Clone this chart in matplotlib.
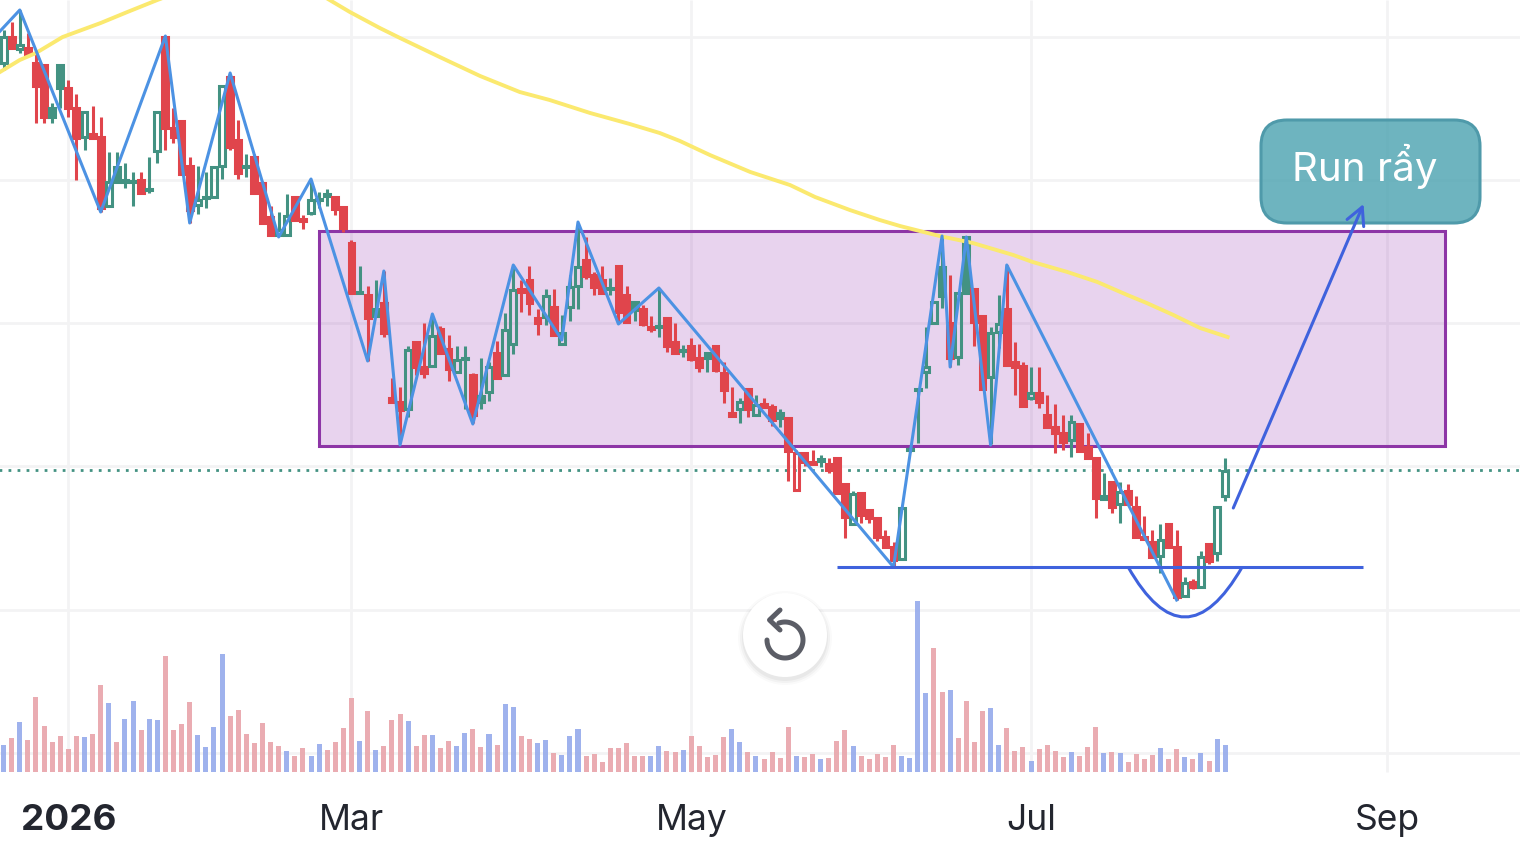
import numpy as np
import matplotlib
matplotlib.use("Agg")
import matplotlib.pyplot as plt
from matplotlib.patches import Rectangle, FancyBboxPatch, Circle, PathPatch
from matplotlib.path import Path
from matplotlib.transforms import Affine2D

plt.rcParams['font.family'] = ['Inter', 'DejaVu Sans']

# gia doc tu hinh, truc gia khong co nhan nen don vi chi la tuong doi
opens = [79.2, 81.8, 80.6, 80.7, 79.2, 79.0, 74.7, 79.0, 76.7, 74.7,
         71.8, 72.1, 71.8, 64.9, 68.8, 67.3, 67.3, 67.5, 66.5, 70.4,
         81.8, 72.7, 73.4, 68.9, 65.0, 65.7, 65.8, 68.9, 77.8, 71.5,
         68.8, 69.8, 67.2, 63.8, 62.0, 62.0, 65.8, 63.6, 64.2, 65.5,
         65.9, 65.8, 64.8, 61.2, 56.2, 56.0, 54.6, 55.2, 45.7, 45.3,
         44.6, 51.3, 48.8, 48.9, 52.6, 50.6, 48.3, 49.6, 48.0, 45.9,
         46.3, 50.2, 48.0, 51.1, 56.6, 57.5, 53.7, 53.8, 54.8, 51.1,
         54.8, 56.9, 59.5, 58.0, 57.5, 56.6, 58.9, 56.0, 55.3, 54.6,
         52.8, 52.8, 53.7, 51.3, 50.4, 50.9, 49.7, 50.2, 50.9, 48.2,
         44.2, 44.6, 46.6, 44.0, 45.1, 44.8, 44.2, 43.7, 36.5, 40.2,
         39.3, 39.4, 39.1, 39.7, 37.1, 33.1, 36.2, 34.5, 33.7, 31.8,
         30.8, 29.6, 40.5, 46.5, 48.3, 53.2, 58.8, 53.2, 49.8, 61.8,
         56.6, 53.9, 47.8, 52.3, 54.6, 49.3, 48.9, 45.7, 46.2, 44.0,
         42.8, 42.2, 41.5, 43.1, 40.8, 39.7, 35.6, 37.3, 35.1, 36.4,
         34.8, 31.8, 31.3, 29.9, 33.1, 30.8, 25.9, 27.3, 26.8, 31.1,
         30.2, 35.9]
highs = [82.5, 83.3, 84.5, 82.2, 80.2, 79.0, 75.2, 79.0, 77.5, 76.1,
         74.3, 74.9, 73.8, 70.3, 70.3, 69.2, 68.3, 68.3, 69.8, 74.3,
         81.8, 74.7, 73.4, 69.8, 68.9, 68.3, 68.8, 76.9, 78.1, 73.5,
         70.1, 70.1, 67.4, 64.9, 64.3, 66.1, 65.8, 64.0, 67.5, 66.3,
         66.6, 65.8, 64.9, 61.5, 58.9, 56.9, 57.5, 58.4, 47.7, 46.8,
         50.9, 51.3, 53.2, 54.1, 52.9, 52.0, 50.9, 50.9, 48.2, 49.7,
         49.3, 51.4, 54.2, 59.0, 57.5, 58.9, 54.6, 56.6, 56.6, 54.0,
         58.0, 63.2, 61.8, 58.3, 58.9, 57.7, 58.9, 56.9, 55.3, 55.0,
         53.9, 56.7, 53.7, 53.2, 51.0, 51.7, 51.1, 50.2, 50.9, 49.3,
         46.8, 45.7, 46.6, 46.0, 45.7, 45.1, 44.6, 43.7, 40.5, 40.2,
         40.5, 40.0, 39.7, 39.7, 37.1, 36.4, 36.2, 34.5, 33.7, 32.5,
         31.3, 34.7, 40.8, 46.7, 52.8, 55.3, 61.8, 58.0, 56.2, 61.8,
         56.6, 53.9, 52.8, 56.0, 59.0, 51.3, 49.3, 48.8, 48.8, 46.0,
         45.1, 44.0, 44.0, 43.1, 42.2, 39.7, 38.2, 37.3, 37.3, 37.1,
         35.9, 33.9, 32.5, 33.1, 33.1, 32.5, 27.8, 27.6, 30.4, 31.1,
         34.8, 39.7]
lows = [78.5, 80.7, 80.2, 80.1, 73.2, 73.2, 73.2, 74.7, 73.8, 67.5,
        70.5, 71.6, 64.3, 64.9, 67.3, 66.7, 64.9, 66.2, 66.2, 69.2,
        70.5, 71.2, 68.1, 63.2, 64.1, 64.7, 65.8, 67.6, 70.5, 67.6,
        67.8, 66.2, 63.2, 62.0, 62.0, 62.0, 63.5, 62.6, 64.0, 64.7,
        64.9, 64.0, 62.3, 56.1, 56.1, 49.4, 53.9, 51.8, 45.3, 41.2,
        43.8, 48.0, 47.7, 48.9, 50.2, 47.4, 48.2, 44.6, 43.2, 44.6,
        45.4, 47.7, 48.0, 50.1, 54.3, 54.0, 52.0, 53.0, 52.0, 51.1,
        53.4, 54.6, 57.6, 56.0, 56.1, 56.0, 53.2, 53.3, 53.4, 52.9,
        52.3, 51.8, 50.3, 50.2, 49.8, 49.4, 48.3, 48.3, 48.3, 45.2,
        43.9, 43.2, 43.8, 44.0, 44.8, 42.9, 42.8, 37.4, 36.5, 38.9,
        39.1, 38.8, 38.2, 36.2, 31.7, 33.1, 33.2, 33.2, 31.4, 30.8,
        28.8, 29.6, 40.3, 41.2, 46.7, 53.2, 54.7, 48.8, 49.0, 56.2,
        50.9, 46.6, 41.1, 50.7, 49.0, 46.0, 44.9, 45.5, 44.7, 42.8,
        40.2, 40.5, 39.8, 40.4, 39.7, 33.7, 35.6, 34.2, 33.2, 35.1,
        31.7, 31.6, 29.7, 28.2, 30.8, 25.5, 25.9, 26.6, 26.8, 29.1,
        29.4, 35.4]
closes = [81.8, 80.7, 81.0, 80.1, 76.9, 73.8, 73.8, 76.7, 74.7, 71.7,
          74.3, 71.7, 64.7, 67.3, 67.3, 67.5, 67.4, 66.2, 66.6, 74.3,
          72.7, 71.8, 68.1, 64.5, 65.5, 65.8, 68.8, 76.9, 70.8, 68.2,
          68.9, 66.2, 63.2, 62.0, 62.5, 63.9, 63.5, 63.4, 65.5, 65.6,
          66.1, 64.6, 62.7, 56.2, 56.3, 53.7, 53.9, 52.2, 45.3, 44.5,
          50.5, 48.8, 48.2, 51.9, 50.2, 48.6, 49.5, 49.7, 44.0, 45.3,
          48.8, 47.7, 52.5, 56.5, 56.3, 55.2, 53.2, 55.9, 52.0, 52.2,
          56.8, 58.8, 57.9, 56.8, 56.2, 56.7, 54.3, 53.3, 54.5, 53.1,
          52.6, 52.9, 50.9, 50.2, 50.5, 49.6, 48.8, 49.7, 48.5, 46.5,
          43.9, 45.3, 44.6, 45.0, 44.8, 43.5, 43.7, 40.4, 40.2, 39.3,
          39.1, 39.6, 38.5, 36.2, 33.8, 36.1, 34.0, 33.7, 31.8, 30.8,
          29.5, 34.7, 40.6, 46.6, 48.8, 55.3, 55.9, 49.7, 56.2, 56.2,
          53.3, 46.6, 52.2, 53.1, 49.0, 48.8, 44.9, 46.2, 45.3, 42.8,
          42.2, 41.3, 43.3, 40.4, 39.7, 35.7, 35.9, 34.8, 36.3, 35.1,
          31.8, 31.6, 29.8, 31.5, 30.8, 25.8, 27.2, 26.8, 29.8, 29.4,
          34.8, 38.4]
# g = xanh, r = do
candle_colors = ("grgrrrggrr" "grrggggrgg" "rrrrggggrr" "grrrggrrgg"
                 "grrrgrgrrr" "grrgrrggrg" "grggrrrgrg" "ggrrrgrrgr"
                 "rgrrgrrgrr" "rgrgrrgrrr" "rgrrrgrrrr" "rggggggrgg"
                 "rrggrrrgrr" "rrgrrrgrgr" "rrrgrrgrgr" "gg")

volumes = [27, 34, 50, 32, 75, 46, 30, 36, 23, 36,
           35, 38, 87, 69, 30, 53, 71, 42, 53, 52,
           116, 42, 48, 70, 37, 25, 45, 118, 56, 62,
           38, 29, 49, 30, 26, 21, 16, 24, 16, 28,
           22, 30, 44, 74, 31, 61, 22, 26, 52, 58,
           51, 26, 37, 37, 24, 31, 26, 39, 43, 25,
           38, 27, 68, 65, 36, 33, 29, 32, 19, 17,
           36, 43, 16, 18, 10, 24, 24, 29, 16, 16,
           16, 26, 21, 20, 22, 36, 26, 15, 17, 35,
           43, 30, 20, 16, 13, 20, 14, 45, 16, 15,
           18, 13, 14, 31, 42, 26, 16, 13, 18, 15,
           27, 16, 14, 171, 79, 124, 80, 82, 34, 71,
           30, 61, 64, 27, 44, 21, 25, 11, 23, 27,
           21, 15, 20, 16, 25, 45, 19, 20, 19, 10,
           18, 13, 17, 24, 13, 23, 15, 13, 19, 11,
           33, 27]
# b = xanh duong, p = hong
volume_colors = ("bpbppppppp" "bppbpbbpbb" "ppppbbbbpp" "pppppbppbb"
                 "ppppbpbppp" "bppbppbbpp" "bpbbppbbpb" "bbpppppppp"
                 "bbppbppppp" "bbpbppppbp" "pbpppbpppp" "pbbbbppbpp"
                 "ppbbpppbpp" "ppbpppbpbp" "pppbppbpbp" "bb")

# duong zigzag: chi so nen va gia
zigzag_idx = [-1, 2, 12, 20, 23, 28, 34, 38, 45, 47, 49, 53, 58, 63, 69, 71, 76, 81, 110, 116, 117, 119, 122, 124, 145]
zigzag_val = [81.9, 84.5, 64.3, 81.9, 63.2, 78.2, 61.8, 67.6, 49.4, 58.4, 41.0, 54.1, 43.1,
              59.0, 51.5, 63.3, 53.1, 56.7, 28.8, 61.9, 48.8, 61.8, 41.0, 59.0, 25.5]

# duong MA vang
ma_idx = [-0.45, 2, 4, 7.3, 12, 15.3, 19, 24, 30.5, 36.6, 40.3, 42.8, 46.5, 49, 53.9, 58.9, 63.8,
          67.5, 72.5, 77.4, 81.1, 83.6, 87.3, 92.3, 97.2, 100.3, 104.6, 108.3, 110.8, 115.7, 119.8,
          124.8, 127.2, 131.5, 135.2, 138.9, 141.3, 144.6, 147.9, 151.3]
ma_val = [78.3, 79.5, 80.2, 81.8, 83.2, 84.3, 85.5, 87.0, 88.3, 87.3, 85.5, 84.3, 82.7, 81.7, 79.8,
          77.9, 76.3, 75.5, 74.2, 73.1, 72.2, 71.4, 70.0, 68.3, 67.0, 65.8, 64.5, 63.5, 62.9, 61.9,
          61.2, 60.0, 59.3, 58.3, 57.3, 56.0, 55.2, 54.0, 52.7, 51.8]

zone_left, zone_right = 39, 178.2
zone_low, zone_high = 40.9, 62.4
dotted_level = 38.5
support_level = 28.8
support_from, support_to = 103, 168
grid_levels = [81.8, 67.5, 53.2, 38.9, 24.5, 10.2]
tick_idx = [8, 43, 85, 127, 171]
tick_labels = ['2026', 'Mar', 'May', 'Jul', 'Sep']

RED = '#e0454c'
GREEN = '#439282'
n = len(closes)
x = np.arange(n)

fig = plt.figure(figsize=(15.2, 8.55), dpi=100)
ax = fig.add_axes([0, 0, 1, 1])
ax.set_xlim(-0.445, 187.44)
ax.set_ylim(0, 85.5)
ax.axis('off')

# toa do pixel tu goc tren trai, cho nut va hop chu
px = Affine2D().scale(1, -1).translate(0, 855)

ax.hlines(grid_levels, -1, 188, color='#f3f3f4', lw=2, zorder=1)
ax.vlines(tick_idx, 8.3, 85.5, color='#f3f3f4', lw=2, zorder=1)

ax.add_patch(Rectangle((zone_left, zone_low), zone_right - zone_left, zone_high - zone_low,
                       facecolor='#8e24aa', alpha=0.2, edgecolor='none', zorder=2))
ax.add_patch(Rectangle((zone_left, zone_low), zone_right - zone_left, zone_high - zone_low,
                       facecolor='none', edgecolor='#8d35a6', lw=2.2, zorder=2.1))

ax.plot([-1, 188], [dotted_level, dotted_level], color=GREEN, lw=2,
        linestyle=(0, (1, 2.25)), zorder=2.5)

# nen
for i in x:
    col = RED if candle_colors[i] == 'r' else GREEN
    top = max(opens[i], closes[i])
    bot = min(opens[i], closes[i])
    ax.vlines(i, top, highs[i], color=col, lw=2.2, zorder=3)
    ax.vlines(i, lows[i], bot, color=col, lw=2.2, zorder=3)
    face = 'none' if closes[i] > opens[i] else col
    ax.bar(i, top - bot, bottom=bot, width=0.72, facecolor=face, edgecolor=col, lw=2.2, zorder=3)

ax.plot(ma_idx, ma_val, color='#fbe96f', lw=2.8, zorder=4)
ax.plot(zigzag_idx, zigzag_val, color='#4c92e3', lw=2.2, zorder=4.2)

ax.hlines(support_level, support_from, support_to, color='#3f62dd', lw=2.2, zorder=4.5)
bowl = Path([(139, support_level), (146, 18.8), (153.1, support_level)],
            [Path.MOVETO, Path.CURVE3, Path.CURVE3])
ax.add_patch(PathPatch(bowl, facecolor='none', edgecolor='#3f62dd', lw=2.2, zorder=4.5))

# hop chu "Run ray"
ax.add_patch(FancyBboxPatch((1261 + 26, 120 + 26), 219 - 52, 103 - 52,
                            boxstyle='round,pad=26,rounding_size=26', transform=px,
                            facecolor=(0.306, 0.643, 0.694, 0.82), edgecolor='#4f9aaa',
                            lw=2.2, zorder=5))
ax.text(1365, 166, 'Run rẩy', transform=px, color='white', fontsize=29,
        ha='center', va='center', zorder=6)

# mui ten
ax.annotate('', xy=(168.1, 65.1), xytext=(152, 34.7),
            arrowprops=dict(arrowstyle='->,head_length=1.25,head_width=0.65', color='#3f62dd',
                            lw=2.2, shrinkA=0, shrinkB=0), zorder=7)

# khoi luong
vol_ax = fig.add_axes([0, (855 - 772) / 855, 1, 200 / 855])
vol_ax.set_xlim(-0.445, 187.44)
vol_ax.set_ylim(0, 200)
vol_ax.axis('off')
vol_ax.patch.set_alpha(0)
bar_colors = ['#e9a8ae' if c == 'p' else '#9aaeec' for c in volume_colors]
vol_ax.bar(x, volumes, width=0.62, color=bar_colors, alpha=0.95)

# nhan truc x
for idx, label in zip(tick_idx, tick_labels):
    bold = label == '2026'
    ax.text(idx, 3.45, label, fontsize=26.5 if bold else 25.5, color='#23262f', ha='center', va='center',
            fontweight='bold' if bold else 'normal', zorder=8)

# nut reset
for r, a in [(47, 0.02), (45, 0.03), (43, 0.04)]:
    ax.add_patch(Circle((785, 638), r, transform=px, facecolor='black', alpha=a,
                        edgecolor='none', zorder=8))
ax.add_patch(Circle((785, 635), 42, transform=px, facecolor='white', edgecolor='none', zorder=9))
t = np.radians(np.linspace(180, -110, 80))
ax.plot(785 + 18 * np.cos(t), 640 + 18 * np.sin(t), transform=px, color='#5b5d66', lw=3.6,
        solid_capstyle='round', zorder=10)
ax.plot([780, 769.5, 780], [610, 620, 630], transform=px, color='#5b5d66', lw=3.6,
        solid_capstyle='round', solid_joinstyle='round', zorder=10)

fig.savefig('out.png', dpi=100)
